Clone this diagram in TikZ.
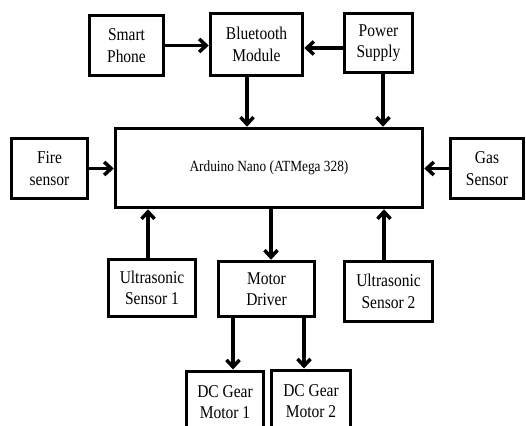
\documentclass[tikz,border=0pt]{standalone}
\usepackage{fontspec}
\setmainfont[FakeStretch=0.86]{Liberation Serif}
\usetikzlibrary{arrows.meta}

\tikzset{
    blk/.style={draw, line width=3.5pt, align=center, inner sep=2pt,
        font=\fontsize{18}{21.5}\selectfont},
    arr/.style={line width=3.5pt, -{Straight Barb[length=7pt,width=13pt]}},
}

\begin{document}
\begin{tikzpicture}[x=1pt, y=-1pt]
    \clip (0,0) rectangle (526,425);
    % top row
    \node[blk, minimum width=74pt, minimum height=60pt] (phone) at (126.5,45.5) {Smart\\Phone};
    \node[blk, minimum width=92pt, minimum height=62pt] (bt) at (256.5,44.5) {Bluetooth\\Module};
    \node[blk, minimum width=68pt, minimum height=59pt] (power) at (378.5,43) {Power\\Supply};
    % controller and side sensors
    \node[blk, minimum width=307pt, minimum height=79pt,
        font=\fontsize{15.5}{18}\selectfont] (nano) at (269,168) {Arduino Nano (ATMega 328)};
    \node[blk, minimum width=76pt, minimum height=60pt] (fire) at (49.5,168.5) {Fire\\sensor};
    \node[blk, minimum width=73pt, minimum height=60pt] (gas) at (487,168.5) {Gas\\Sensor};
    % bottom row
    \node[blk, minimum width=87pt, minimum height=57pt] (us1) at (152,288) {Ultrasonic\\Sensor 1};
    \node[blk, minimum width=96pt, minimum height=55pt] (driver) at (266.5,289) {Motor\\Driver};
    \node[blk, minimum width=88pt, minimum height=60pt] (us2) at (388.5,291.5) {Ultrasonic\\Sensor 2};
    \node[blk, minimum width=77pt, minimum height=62pt, anchor=north] (m1) at (225,369.5) {DC Gear\\Motor 1};
    \node[blk, minimum width=79pt, minimum height=62pt, anchor=north] (m2) at (311,368.5) {DC Gear\\Motor 2};

    % connections
    \draw[arr] (phone.east) -- (phone.east -| bt.west);
    \draw[arr] ([yshift=-5pt]power.west) -- ([yshift=-5pt]power.west -| bt.east);
    \draw[arr] ([xshift=-9.5pt]bt.south) -- ([xshift=-9.5pt]bt.south |- nano.north);
    \draw[arr] ([xshift=4.5pt]power.south) -- ([xshift=4.5pt]power.south |- nano.north);
    \draw[arr] (fire.east) -- (fire.east -| nano.west);
    \draw[arr] (gas.west) -- (gas.west -| nano.east);
    \draw[arr] ([xshift=-4pt]us1.north) -- ([xshift=-4pt]us1.north |- nano.south);
    \draw[arr] ([xshift=-4.5pt]us2.north) -- ([xshift=-4.5pt]us2.north |- nano.south);
    \draw[arr] ([xshift=4.5pt]driver.north |- nano.south) -- ([xshift=4.5pt]driver.north);
    \draw[arr] ([xshift=8pt]m1.north |- driver.south) -- ([xshift=8pt]m1.north);
    \draw[arr] ([xshift=-7pt]m2.north |- driver.south) -- ([xshift=-7pt]m2.north);
\end{tikzpicture}
\end{document}
